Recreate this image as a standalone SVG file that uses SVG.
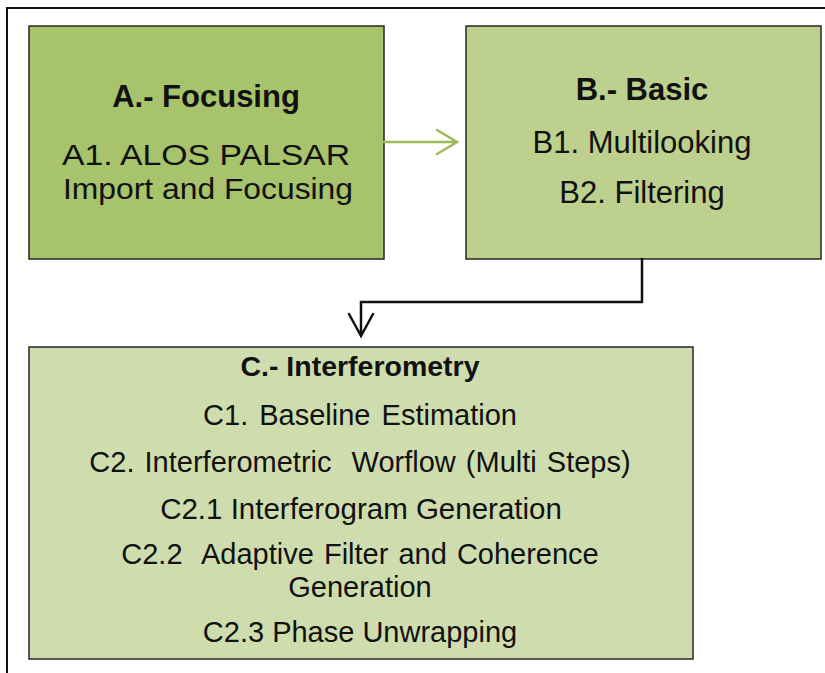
<svg xmlns="http://www.w3.org/2000/svg" width="825" height="673" viewBox="0 0 825 673">
<style>
.box{stroke:#262626;stroke-width:1.5}
.t{font-family:"Liberation Sans",Arial,sans-serif;fill:#111;text-anchor:middle}
.b{font-weight:bold}
.conn{fill:none;stroke-width:2.5;stroke-linecap:round;stroke-linejoin:miter}
</style>
<rect width="825" height="673" fill="#fff"/>
<rect x="7" y="8" width="840" height="700" fill="none" stroke="#111" stroke-width="2"/>
<g id="nodeA">
<rect class="box" x="29" y="26" width="355" height="233" fill="#a7c36b"/>
<text class="t b" x="206" y="107" font-size="31">A.- Focusing</text>
<text class="t" x="206" y="165" font-size="30" textLength="288" lengthAdjust="spacingAndGlyphs">A1. ALOS PALSAR</text>
<text class="t" x="208" y="199" font-size="30" textLength="290" lengthAdjust="spacingAndGlyphs">Import and Focusing</text>
</g>
<g id="nodeB">
<rect class="box" x="466" y="26" width="355" height="233" fill="#bdd08d"/>
<text class="t b" x="642" y="100" font-size="31">B.- Basic</text>
<text class="t" x="642" y="153" font-size="31">B1. Multilooking</text>
<text class="t" x="642" y="203" font-size="31">B2. Filtering</text>
</g>
<g id="nodeC">
<rect class="box" x="29" y="347" width="664" height="312" fill="#cfddae"/>
<text class="t b" x="360" y="376" font-size="28.5">C.- Interferometry</text>
<text class="t" x="360" y="425" font-size="29" word-spacing="3">C1. Baseline Estimation</text>
<text class="t" x="360" y="472" font-size="29" word-spacing="2" xml:space="preserve">C2. Interferometric  Worflow (Multi Steps)</text>
<text class="t" x="361" y="519" font-size="29.5">C2.1 Interferogram Generation</text>
<text class="t" x="360" y="564" font-size="29" word-spacing="2" xml:space="preserve">C2.2  Adaptive Filter and Coherence</text>
<text class="t" x="360" y="597" font-size="29">Generation</text>
<text class="t" x="360" y="642" font-size="29">C2.3 Phase Unwrapping</text>
</g>
<g id="connectors">
<path class="conn" stroke="#9bbb59" d="M384 142 H456 M437 130 L457 142 L437 154"/>
<path class="conn" stroke="#111" d="M642 259 V302 H361 V335 M349 314 L361 336 L373 314"/>
</g>
</svg>
